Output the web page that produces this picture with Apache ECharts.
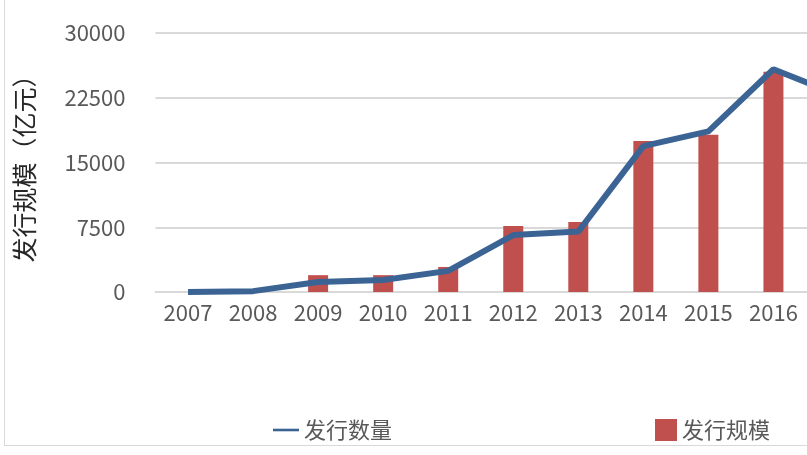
<!DOCTYPE html><html><head><meta charset="utf-8"><script src="https://cdn.jsdelivr.net/npm/echarts@6/dist/echarts.min.js"></script>
<style>html,body{margin:0;background:#fff;overflow:hidden;width:807px;height:455px}#c{width:871px;height:455px}</style></head><body>
<div id="c"></div><div style="position:absolute;left:4px;top:0;width:900px;height:445px;border-left:1px solid #d9d9d9;border-bottom:1px solid #d9d9d9;pointer-events:none"></div>
<script>
const categories=['2007','2008','2009','2010','2011','2012','2013','2014','2015','2016','2017'];
const scale=[0,0,1950,1950,2900,7650,8100,17500,18200,25500,21000];
const count=[0,100,1150,1400,2450,6600,7000,16900,18600,25800,22800];
const yTicks=[0,7500,15000,22500,30000];
const f='"Noto Sans CJK SC","Noto Sans",sans-serif';
const ch=echarts.init(document.getElementById('c'));
ch.setOption({
 animation:false,
 grid:{left:155.5,right:0,top:33,bottom:163},
 legend:[
  {data:[{name:'发行数量',icon:'path://M0,0H10V1H0Z'}],left:268,top:414,itemWidth:26,itemHeight:4,itemGap:14,textStyle:{fontSize:22,color:'#595959',fontFamily:f}},
  {data:[{name:'发行规模',icon:'rect'}],left:650,top:414,itemWidth:22,itemHeight:22,itemGap:14,textStyle:{fontSize:22,color:'#595959',fontFamily:f}}
 ],
 xAxis:{type:'category',data:categories,axisTick:{show:false},axisLine:{lineStyle:{color:'#d9d9d9',width:2}},axisLabel:{fontSize:22,color:'#595959',fontFamily:f,margin:10}},
 yAxis:{type:'value',min:0,max:30000,interval:7500,name:'发行规模（亿元）',nameLocation:'middle',nameGap:118,nameRotate:90,nameTextStyle:{fontSize:25,color:'#262626',fontFamily:f},
  axisLabel:{fontSize:22,color:'#595959',fontFamily:f,margin:30,formatter:v=>yTicks.includes(v)?String(v):''},splitLine:{lineStyle:{color:'#d9d9d9',width:2}},axisLine:{show:false}},
 series:[
  {name:'发行规模',type:'bar',data:scale,barWidth:20,itemStyle:{color:'#c0504d'}},
  {name:'发行数量',type:'line',data:count,symbol:'none',lineStyle:{width:6,color:'#3b6494'},itemStyle:{color:'#3b6494'}}
 ]
});
</script></body></html>
